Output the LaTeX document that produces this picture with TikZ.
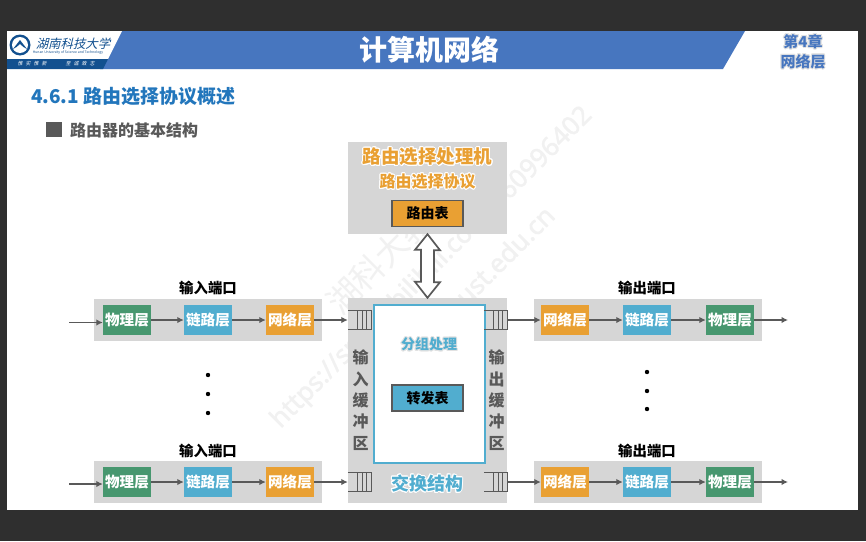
\documentclass[tikz,border=0pt]{standalone}
\usepackage{fontspec}
\usepackage[copies]{contour}
\setmainfont{Noto Sans CJK SC}
\newfontfamily\logofont{Noto Sans CJK SC}[FakeSlant=0.25]
\newfontfamily\markfont{Noto Sans}[FakeBold=1.5]
\usetikzlibrary{arrows.meta}
\usetikzlibrary{positioning}
\definecolor{slidedark}{HTML}{2F2F2F}
\definecolor{headblue}{HTML}{4776BF}
\definecolor{logoblue}{HTML}{12508F}
\definecolor{titleblue}{HTML}{2276BC}
\definecolor{darkgray}{HTML}{595959}
\definecolor{panelgray}{HTML}{D6D6D6}
\definecolor{phygreen}{HTML}{47976F}
\definecolor{linkblue}{HTML}{51ADCF}
\definecolor{netorange}{HTML}{E9A033}
\definecolor{markgray}{HTML}{F1F1F1}
\definecolor{halogray}{HTML}{E2E2E2}
\newcommand{\fsize}[1]{\fontsize{#1}{#1}\selectfont}
\newcommand{\halo}[1]{\contour{white}{#1}}
\newcommand{\softhalo}[1]{\contour{halogray}{#1}}
\contourlength{1pt}
\contournumber{16}
\tikzset{panel/.style = {fill=panelgray, inner sep=0},
         layerbox/.style = {minimum width=48, minimum height=30, inner sep=0,
                            text=white, font=\fsize{14.6}\bfseries},
         phy/.style = {layerbox, fill=phygreen},
         link/.style = {layerbox, fill=linkblue},
         net/.style = {layerbox, fill=netorange},
         tablebox/.style = {draw=darkgray, line width=1.4, minimum width=71, minimum height=26,
                            inner sep=0, font=\fsize{14}\bfseries},
         queue/.style = {minimum width=23, minimum height=19, inner sep=0},
         flow/.style = {draw=darkgray, line width=1.5, -{Latex[length=6.5, width=6.5]}},
         qline/.style = {draw=darkgray, line width=1.3},
         duplex/.style = {draw=darkgray, fill=white, line width=1.7},
         porttitle/.style = {font=\fsize{14.4}\bfseries},
         dot/.style = {circle, fill=black, inner sep=0, minimum size=4.4},
         vtext/.style = {text=darkgray, font=\fsize{16}\bfseries},
         watermark/.style = {text=markgray, rotate=45, font=\fsize{26}}}

\begin{document}
\begin{tikzpicture}[x=1pt, y=-1pt]
    \useasboundingbox (0, 0) rectangle (866, 541);
    \fill [slidedark] (0, 0) rectangle (866, 541);
    \fill [white] (7, 31) rectangle (858, 510);
    % header
    \fill [headblue] (100, 31) -- (745, 31) -- (723, 69) -- (100, 69) -- cycle;
    \fill [white] (7, 31) -- (122, 31) -- (108, 59) -- (7, 59) -- cycle;
    \fill [logoblue] (7, 59) -- (108, 59) -- (103, 69) -- (7, 69) -- cycle;
    \fill [logoblue] (20, 45) circle (10.5);
    \fill [white] (20, 45) circle (8);
    \fill [logoblue] (13, 49) -- (20, 40) -- (27, 49) -- (23.5, 47) -- (20, 44) -- (16.5, 47) -- cycle;
    \node (schoolname) at (73, 43.5) {\logofont\fsize{12.4}\color{logoblue}湖南科技大学};
    \node (schooleng) at (68, 53) {\fsize{3.4}\color{logoblue}Hunan University of Science and Technology};
    \node (mottoa) at (32, 64) {\logofont\fsize{5}\color{white}惟\hspace{3pt}实\hspace{3pt}惟\hspace{3pt}新};
    \node (mottob) at (80, 64) {\logofont\fsize{5}\color{white}至\hspace{3pt}诚\hspace{3pt}致\hspace{3pt}志};
    \node (course) at (429, 50) {\fsize{28}\bfseries\color{white}计算机网络};
    \node (chapter) at (803, 42) {\fsize{15}\bfseries\color{headblue}\softhalo{第4章}};
    \node (chaptername) at (803, 62) {\fsize{15}\bfseries\color{headblue}\softhalo{网络层}};
    \node (heading) at (27.5, 96) [anchor = west] {\fsize{19}\bfseries\color{titleblue}4.6.1 路由选择协议概述};
    \fill [darkgray] (46, 122) rectangle (62, 137);
    \node (subheading) at (66.5, 130) [anchor = west] {\fsize{16}\bfseries\color{darkgray}路由器的基本结构};
    % watermark, under the panels
    \node (markurl) at (432, 268) [watermark] {\markfont https://space.bilibili.com/360996402};
    \node (markname) at (330, 310) [watermark, anchor = west, font=\fsize{33}] {湖科大教};
    \node (markmail) at (552, 208) [watermark, anchor = east] {\markfont hnust.edu.cn};
    % processor and switching fabric
    \node (procpanel) at (427.5, 188) [panel, minimum width=159, minimum height=92] {};
    \node (fabric) at (427.5, 400.5) [panel, minimum width=159, minimum height=205] {};
    \node (fabricbox) at (429.5, 384) [draw=linkblue, fill=white, line width=1.4, minimum width=111, minimum height=158, inner sep=0] {};
    \node (proctitle) at (427.5, 157) {\fsize{18.5}\bfseries\color{netorange}\halo{路由选择处理机}};
    \node (protocol) at (427.5, 182) {\fsize{16}\bfseries\color{netorange}\halo{路由选择协议}};
    \node (routetable) at (427.5, 213.5) [tablebox, fill=netorange] {路由表};
    \node (process) at (429, 345) {\fsize{14}\bfseries\color{linkblue}\softhalo{分组处理}};
    \node (fwdtable) at (427.5, 398) [tablebox, fill=linkblue] {转发表};
    \node (fabrictitle) at (427, 484) {\fsize{18}\bfseries\color{linkblue}\halo{交换结构}};
    \draw [duplex] (procpanel.south) -- ++(12.5, 16) -- ++(-6, 0) -- ++(0, 32) -- ++(6, 0) -- (fabric.north)
        -- ++(-12.5, -16) -- ++(6, 0) -- ++(0, -32) -- ++(-6, 0) -- cycle;
    \foreach \ch/\y in {输/357, 入/379, 缓/400, 冲/421, 区/443}
      \node at (360.5, \y) [vtext] {\ch};
    \foreach \ch/\y in {输/357, 出/379, 缓/400, 冲/421, 区/443}
      \node at (496.5, \y) [vtext] {\ch};
    % ports
    \foreach \r/\y/\ytitle/\yin in {a/320/288/322.5, b/482/451/484} {
      \node (inpanel\r) at (208, \y) [panel, minimum width=228, minimum height=42] {};
      \node (outpanel\r) at (648, \y) [panel, minimum width=228, minimum height=42] {};
      \node (intitle\r) at (208, \ytitle) [porttitle] {输入端口};
      \node (outtitle\r) at (647, \ytitle) [porttitle] {输出端口};
      \node (phyin\r) at (127, \y) [phy] {物理层};
      \node (linkin\r) at (208, \y) [link] {链路层};
      \node (netin\r) at (290, \y) [net] {网络层};
      \node (qin\r) at (359.5, \y) [queue] {};
      \node (qout\r) at (495.5, \y) [queue] {};
      \node (netout\r) at (565, \y) [net] {网络层};
      \node (linkout\r) at (647, \y) [link] {链路层};
      \node (phyout\r) at (730, \y) [phy] {物理层};
      \coordinate (start\r) at (69, \yin);
      \coordinate (stop\r) at (788, \y);
      \draw [flow] (start\r) -- (start\r -| phyin\r.west);
      \draw [flow] (phyin\r) -- (linkin\r);
      \draw [flow] (linkin\r) -- (netin\r);
      \draw [flow] (netin\r) -- (qin\r);
      \draw [flow] (qout\r) -- (netout\r);
      \draw [flow] (netout\r) -- (linkout\r);
      \draw [flow] (linkout\r) -- (phyout\r);
      \draw [flow] (phyout\r) -- (stop\r);
      \foreach \q in {qin\r, qout\r} {
        \draw [qline] (\q.north west) -- (\q.north east) -- (\q.south east) -- (\q.south west);
        \foreach \d in {10, 15, 19}
          \draw [qline] (\q.north west) ++(\d, 0) -- ++(0, 19);
      }
    }
    \foreach \y [count=\i] in {375, 394, 413}
      \node (dotin\i) at (208, \y) [dot] {};
    \foreach \y [count=\i] in {372, 391, 409}
      \node (dotout\i) at (647, \y) [dot] {};
\end{tikzpicture}
\end{document}
